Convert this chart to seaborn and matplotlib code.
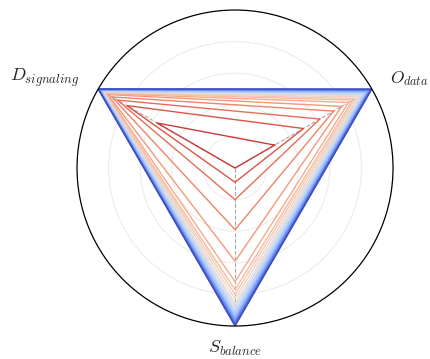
import numpy as np
import pandas as pd
import matplotlib
matplotlib.use("Agg")
import matplotlib.pyplot as plt
from matplotlib.patches import Circle
import seaborn as sns

# Radar axes (angle in degrees) and their labels
axis_names = [r"$O_{data}$", r"$D_{signaling}$", r"$S_{balance}$"]
axis_angles = [30, 150, 270]

# Scores per iteration, one triangle per step
o_data = [0.29, 0.50, 0.62, 0.72, 0.78, 0.83, 0.86, 0.88, 0.90, 0.915, 0.93,
          0.94, 0.95, 0.96, 0.967, 0.974, 0.98, 0.986, 0.991, 0.996, 1.00]
d_signaling = [0.57, 0.79, 0.86, 0.90, 0.93, 0.94, 0.95, 0.955, 0.96, 0.965, 0.97,
               0.975, 0.98, 0.983, 0.986, 0.989, 0.992, 0.995, 0.997, 0.999, 1.00]
s_balance = [0.00, 0.09, 0.20, 0.39, 0.59, 0.72, 0.77, 0.80, 0.83, 0.86, 0.88,
             0.90, 0.915, 0.93, 0.945, 0.955, 0.965, 0.975, 0.985, 0.993, 1.00]

sns.set_theme(style="white")
plt.rcParams["mathtext.fontset"] = "cm"

# Long-form table: each step is a closed polygon O -> D -> S -> O
theta_closed = np.deg2rad(axis_angles + [axis_angles[0]])
rows = []
for step, (o, d, s) in enumerate(zip(o_data, d_signaling, s_balance)):
    for order, (t, r) in enumerate(zip(theta_closed, [o, d, s, o])):
        rows.append({"step": step, "order": order, "theta": t, "r": r})
df = pd.DataFrame(rows)

n_steps = len(o_data)
cmap = sns.color_palette("coolwarm", as_cmap=True)
palette = [cmap(v) for v in np.linspace(0.94, 0.0, n_steps)]

fig = plt.figure(figsize=(4.31, 3.59), dpi=100)
ax = fig.add_axes([0.1787, 0.0919, 0.7332, 0.8802], projection="polar")

sns.lineplot(data=df, x="theta", y="r", hue="step", units="step",
             estimator=None, sort=False, palette=palette, legend=False,
             linewidth=1.0, ax=ax, zorder=3)

ax.set_ylim(0, 1)
ax.set_yticks([0.2, 0.4, 0.6, 0.8])
ax.set_yticklabels([])
ax.set_xticks(np.deg2rad(axis_angles))
ax.set_xticklabels([])
ax.set_xlabel("")
ax.set_ylabel("")
ax.tick_params(axis="both", which="both", length=0, width=0)
ax.yaxis.grid(True, color="#ececec", linewidth=0.8, linestyle="-")
ax.xaxis.grid(True, color="#a8a8a8", linewidth=0.8, linestyle="--")
for spine in ax.spines.values():
    spine.set_visible(False)

# Outer boundary circle as a closed patch in axes coordinates
ax.add_patch(Circle((0.5, 0.5), 0.5, transform=ax.transAxes, fill=False,
                    edgecolor="black", linewidth=0.9, clip_on=False, zorder=4))

ax.text(np.deg2rad(30), 1.135, axis_names[0], ha="left", va="center", fontsize=12.5)
ax.text(np.deg2rad(150), 1.14, axis_names[1], ha="right", va="center", fontsize=13)
ax.text(np.deg2rad(270), 1.08, axis_names[2], ha="center", va="top", fontsize=13)

fig.savefig("out.png", dpi=100)
